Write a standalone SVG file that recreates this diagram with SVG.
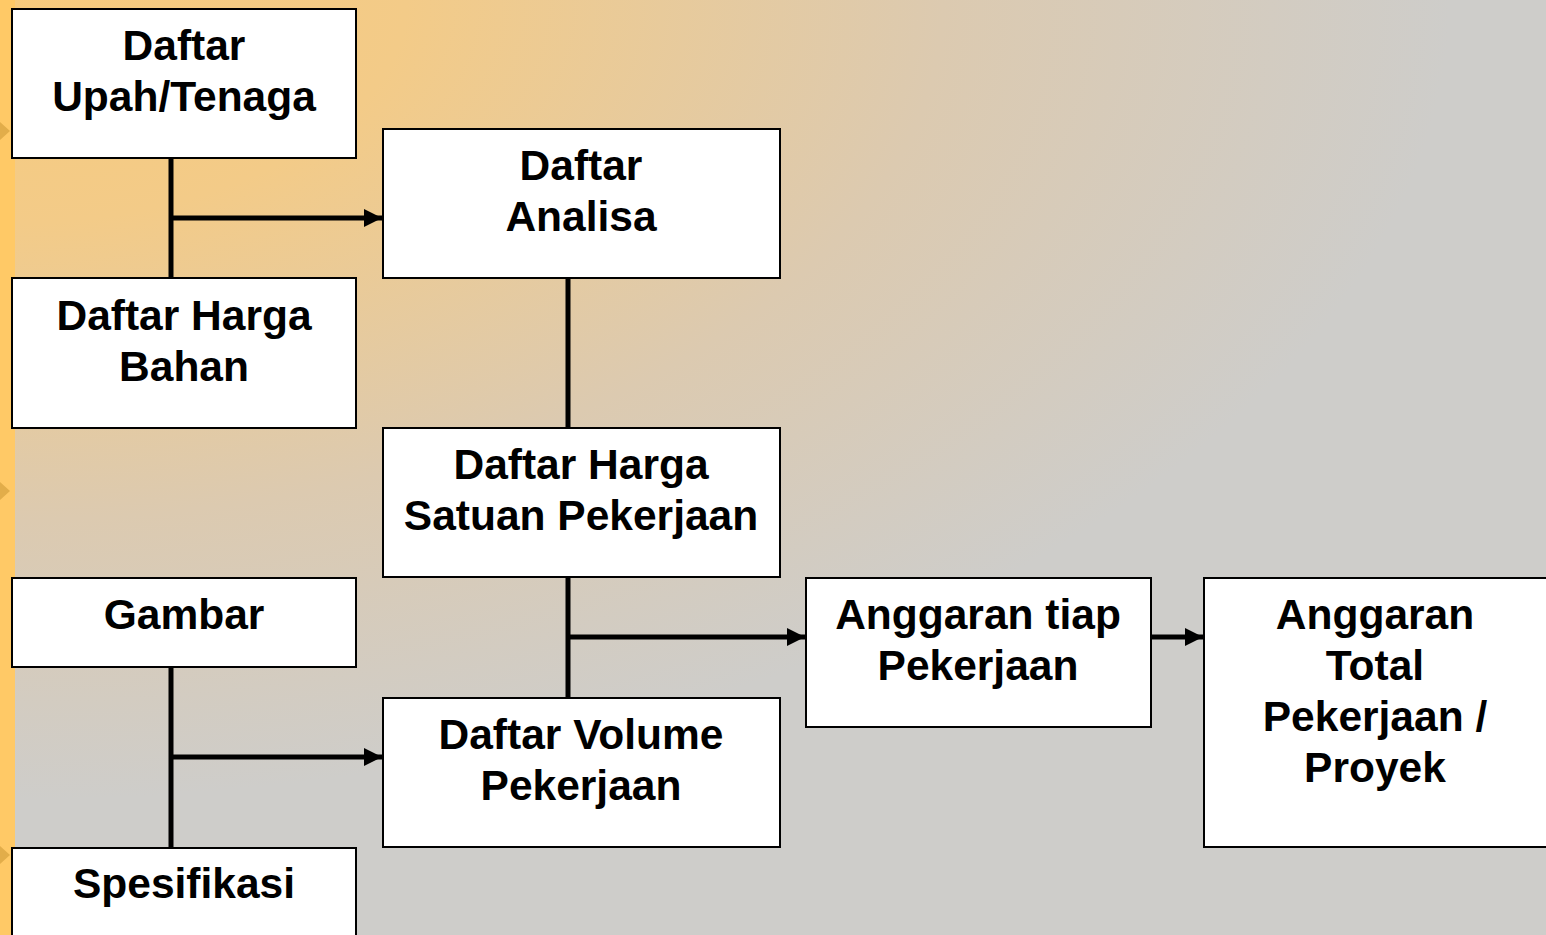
<svg xmlns="http://www.w3.org/2000/svg" width="1546" height="935" viewBox="0 0 1546 935">
<defs>
<radialGradient id="bg" gradientUnits="userSpaceOnUse" cx="0" cy="0" r="1" gradientTransform="translate(0,0) scale(1450,800)">
<stop offset="0" stop-color="#f8cb7c"/>
<stop offset="0.28" stop-color="#f3cb88"/>
<stop offset="0.65" stop-color="#dccab0"/>
<stop offset="1" stop-color="#cecdca"/>
</radialGradient>
<marker id="ah" viewBox="0 0 10 10" refX="10" refY="5" markerWidth="3.6" markerHeight="3.6" orient="auto" markerUnits="strokeWidth">
<path d="M0,0 L10,5 L0,10 Z" fill="#000"/>
</marker>
<style>
.box{fill:#fff;stroke:#000;stroke-width:2}
.t{font-family:"Liberation Sans",Arial,sans-serif;font-weight:bold;font-size:42.5px;fill:#000;text-anchor:middle}
.ln{stroke:#000;stroke-width:5;fill:none}
.ar{stroke:#000;stroke-width:5;fill:none;marker-end:url(#ah)}
</style>
</defs>
<rect x="0" y="0" width="1546" height="935" fill="url(#bg)"/>
<rect x="0" y="0" width="15" height="935" fill="#ffc966"/>
<path d="M0,122 L10,131 L0,140 Z" fill="#e2ad4a"/>
<path d="M0,482 L10,491 L0,500 Z" fill="#e2ad4a"/>
<path d="M0,846 L10,855 L0,864 Z" fill="#e2ad4a"/>
<g id="connectors">
<line class="ln" x1="171" y1="158" x2="171" y2="278"/>
<line class="ar" x1="171" y1="218" x2="382" y2="218"/>
<line class="ln" x1="568" y1="278" x2="568" y2="428"/>
<line class="ln" x1="568" y1="577" x2="568" y2="698"/>
<line class="ar" x1="568" y1="637" x2="805" y2="637"/>
<line class="ar" x1="1151" y1="637" x2="1203" y2="637"/>
<line class="ln" x1="171" y1="667" x2="171" y2="848"/>
<line class="ar" x1="171" y1="757" x2="382" y2="757"/>
</g>
<g id="upah">
<rect class="box" x="12" y="9" width="344" height="149"/>
<text class="t" x="184" y="60">Daftar</text>
<text class="t" x="184" y="111">Upah/Tenaga</text>
</g>
<g id="bahan">
<rect class="box" x="12" y="278" width="344" height="150"/>
<text class="t" x="184" y="330">Daftar Harga</text>
<text class="t" x="184" y="381">Bahan</text>
</g>
<g id="analisa">
<rect class="box" x="383" y="129" width="397" height="149"/>
<text class="t" x="581" y="180">Daftar</text>
<text class="t" x="581" y="231">Analisa</text>
</g>
<g id="hargasatuan">
<rect class="box" x="383" y="428" width="397" height="149"/>
<text class="t" x="581" y="479">Daftar Harga</text>
<text class="t" x="581" y="530">Satuan Pekerjaan</text>
</g>
<g id="gambar">
<rect class="box" x="12" y="578" width="344" height="89"/>
<text class="t" x="184" y="629">Gambar</text>
</g>
<g id="spesifikasi">
<rect class="box" x="12" y="848" width="344" height="100"/>
<text class="t" x="184" y="898">Spesifikasi</text>
</g>
<g id="volume">
<rect class="box" x="383" y="698" width="397" height="149"/>
<text class="t" x="581" y="749">Daftar Volume</text>
<text class="t" x="581" y="800">Pekerjaan</text>
</g>
<g id="anggarantiap">
<rect class="box" x="806" y="578" width="345" height="149"/>
<text class="t" x="978" y="629">Anggaran tiap</text>
<text class="t" x="978" y="680">Pekerjaan</text>
</g>
<g id="anggarantotal">
<rect class="box" x="1204" y="578" width="350" height="269"/>
<text class="t" x="1375" y="629">Anggaran</text>
<text class="t" x="1375" y="680">Total</text>
<text class="t" x="1375" y="731">Pekerjaan /</text>
<text class="t" x="1375" y="782">Proyek</text>
</g>
</svg>
